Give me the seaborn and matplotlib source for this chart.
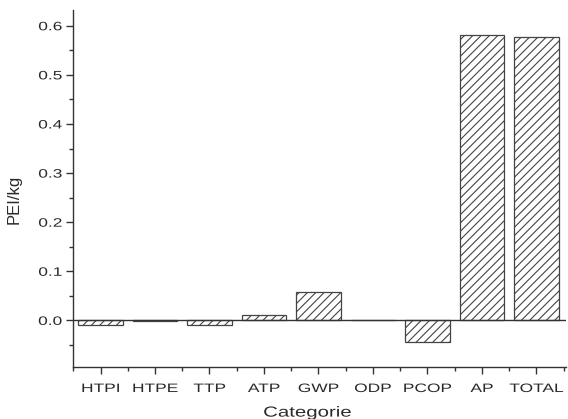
import matplotlib
matplotlib.use("Agg")
import matplotlib.pyplot as plt
from matplotlib.ticker import MultipleLocator, FixedLocator
from matplotlib.patheffects import AbstractPathEffect
from matplotlib.transforms import Affine2D
import seaborn as sns
import pandas as pd

categories = ["HTPI", "HTPE", "TTP", "ATP", "GWP", "ODP", "PCOP", "AP", "TOTAL"]
values = [-0.010, -0.001, -0.010, 0.010, 0.057, 0.0, -0.045, 0.581, 0.577]
ytick_values = [0.0, 0.1, 0.2, 0.3, 0.4, 0.5, 0.6]
ytick_labels = ["0.0", "0.1", "0.2", "0.3", "0.4", "0.5", "0.6"]


class Stretch(AbstractPathEffect):
    """Widen glyphs along the text direction (the source image is stretched)."""
    def __init__(self, sx, anchor="center"):
        super().__init__()
        self.sx = sx
        self.anchor = anchor

    def draw_path(self, renderer, gc, tpath, affine, rgbFace=None):
        v = tpath.vertices
        if len(v):
            lo, hi = v[:, 0].min(), v[:, 0].max()
            a = {"left": lo, "right": hi}.get(self.anchor, (lo + hi) / 2)
            pre = Affine2D().translate(-a, 0).scale(self.sx, 1).translate(a, 0)
            affine = pre + affine
        renderer.draw_path(gc, tpath, affine, rgbFace)


sns.set_style("ticks")
plt.rcParams['font.family'] = ['Liberation Sans', 'DejaVu Sans']
plt.rcParams['hatch.color'] = '#707070'
plt.rcParams['hatch.linewidth'] = 0.8

df = pd.DataFrame({"Categorie": categories, "PEI/kg": values})

fig = plt.figure(figsize=(5.68, 4.19), dpi=100)
ax = fig.add_axes([0.129, 0.124, 0.868, 0.852])
sns.barplot(data=df, x="Categorie", y="PEI/kg", color="white", edgecolor="#444444",
            linewidth=0.9, width=0.82, ax=ax, saturation=1)
for p in ax.patches:
    p.set_hatch("////")

ax.axhline(0, color="#333333", lw=1.0, zorder=3)
ax.set_xlim(-0.5, 8.55)
ax.set_ylim(-0.095, 0.632)
ax.yaxis.set_minor_locator(MultipleLocator(0.05))
ax.xaxis.set_minor_locator(FixedLocator([i + 0.5 for i in range(-1, 9)]))
ax.set_yticks(ytick_values)
ax.set_yticklabels(ytick_labels)
ax.tick_params(axis="both", which="major", length=5, width=1, color="#333333",
               labelsize=8.8, labelcolor="#2a2a2a")
ax.tick_params(axis="y", which="major", pad=3)
ax.tick_params(axis="x", which="major", pad=6.5)
ax.tick_params(axis="both", which="minor", length=3, width=1, color="#333333")
for s in ["top", "right"]:
    ax.spines[s].set_visible(False)
for s in ["left", "bottom"]:
    ax.spines[s].set_color("#333333")
    ax.spines[s].set_linewidth(1.0)

for t in ax.get_xticklabels():
    t.set_path_effects([Stretch(1.42, "center")])
for t in ax.get_yticklabels():
    t.set_path_effects([Stretch(1.42, "right")])

ax.set_xlabel("Categorie", fontsize=10.5, color="#2a2a2a")
ax.xaxis.label.set_path_effects([Stretch(1.4, "center")])
ax.xaxis.set_label_coords(0.475, -0.108)
ax.set_ylabel("PEI/kg", fontsize=12, color="#2a2a2a")
ax.yaxis.set_label_coords(-0.105, 0.47)

fig.savefig("out.png", dpi=100)
